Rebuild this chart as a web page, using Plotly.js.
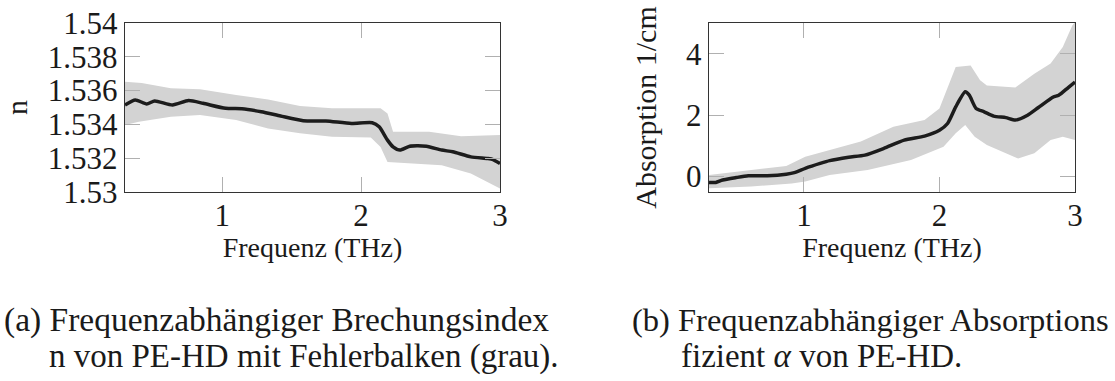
<!DOCTYPE html>
<html>
<head>
<meta charset="utf-8">
<script src="https://cdn.plot.ly/plotly-3.0.1.min.js"></script>
<style>html,body{margin:0;padding:0;background:#fff;font-family:'Liberation Serif';}#chart{width:1115px;height:381px;}</style>
</head>
<body>
<div id="chart"></div>
<script>
// (a) refractive index n vs frequency (THz)
const nFreq = [0.30,0.374,0.456,0.514,0.642,0.758,0.862,1.025,1.141,1.281,1.42,1.583,1.746,1.93,2.08,2.13,2.19,2.23,2.28,2.35,2.47,2.58,2.66,2.79,2.91,2.95,3.0];
const nValue = [1.53515,1.53545,1.53521,1.53539,1.53515,1.53541,1.53525,1.53495,1.53493,1.53475,1.5345,1.53422,1.5342,1.53406,1.5341,1.53386,1.53307,1.53267,1.53248,1.53271,1.53271,1.53248,1.53238,1.53208,1.53198,1.53192,1.53168];
const nUpperFreq = [0.30,0.42,0.63,0.84,1.10,1.33,1.56,1.79,2.14,2.19,2.23,2.49,2.72,3.0];
const nUpper = [1.53653,1.53645,1.53614,1.53608,1.53574,1.53548,1.53509,1.53495,1.53495,1.53464,1.53356,1.53356,1.5333,1.53337];
const nLowerFreq = [0.30,0.40,0.63,0.84,1.10,1.33,1.56,1.79,2.07,2.14,2.19,2.37,2.58,2.79,2.91,3.0];
const nLower = [1.53396,1.53416,1.53446,1.53455,1.53426,1.53376,1.53347,1.53327,1.53323,1.53267,1.53178,1.53168,1.53158,1.53109,1.53059,1.5302];

// (b) absorption coefficient (1/cm) vs frequency (THz)
const aFreq = [0.30,0.35,0.40,0.50,0.59,0.73,0.87,0.93,1.01,1.12,1.19,1.33,1.45,1.59,1.74,1.89,2.0,2.06,2.12,2.19,2.22,2.27,2.33,2.40,2.49,2.56,2.65,2.73,2.84,2.88,2.95,3.0];
const aValue = [-0.19,-0.19,-0.11,-0.03,0.03,0.03,0.08,0.13,0.27,0.43,0.52,0.63,0.70,0.92,1.19,1.32,1.51,1.73,2.27,2.76,2.65,2.22,2.11,1.97,1.92,1.84,2.0,2.25,2.59,2.65,2.90,3.08];
const aUpperFreq = [0.30,0.61,0.87,1.01,1.19,1.42,1.66,1.89,2.0,2.07,2.12,2.23,2.30,2.35,2.56,2.70,2.82,2.91,2.98,3.0];
const aUpper = [0.05,0.22,0.35,0.65,0.86,1.14,1.62,1.84,2.22,3.03,3.57,3.62,3.14,2.97,2.9,3.35,3.68,4.22,4.92,5.03];
const aLowerFreq = [0.30,0.61,0.91,1.01,1.19,1.47,1.79,2.03,2.12,2.19,2.26,2.35,2.49,2.58,2.70,2.82,2.91,3.0];
const aLower = [-0.38,-0.32,-0.22,-0.16,0.05,0.22,0.54,0.97,1.41,1.68,1.30,1.03,0.76,0.59,0.76,1.19,1.30,1.19];

const nTicks = [1.53,1.532,1.534,1.536,1.538,1.54];
const nTickText = ['1.53','1.532','1.534','1.536','1.538','1.54'];
const aTicks = [0,2,4];
const fTicks = [1,2,3];

const bandColor = '#d3d3d3';
const lineColor = '#1c1c1c';
const font = 'Liberation Serif';

function band(xu, yu, xl, yl, xa, ya) {
  return {
    x: xu.concat(xl.slice().reverse()),
    y: yu.concat(yl.slice().reverse()),
    xaxis: xa, yaxis: ya,
    type: 'scatter', mode: 'lines', fill: 'toself',
    fillcolor: bandColor, line: {width: 0, color: bandColor},
    hoverinfo: 'skip'
  };
}

const traces = [
  band(nUpperFreq, nUpper, nLowerFreq, nLower, 'x', 'y'),
  {x: nFreq, y: nValue, xaxis: 'x', yaxis: 'y', type: 'scatter', mode: 'lines',
   line: {color: lineColor, width: 3.5, shape: 'spline', smoothing: 0.6}},
  band(aUpperFreq, aUpper, aLowerFreq, aLower, 'x2', 'y2'),
  {x: aFreq, y: aValue, xaxis: 'x2', yaxis: 'y2', type: 'scatter', mode: 'lines',
   line: {color: lineColor, width: 3.5, shape: 'spline', smoothing: 0.6}}
];

function axisBase() {
  return {
    ticks: 'inside', ticklen: 15, tickwidth: 1, tickcolor: '#b0b0b0',
    showline: true, linecolor: '#333', linewidth: 1.3, mirror: 'ticks',
    showgrid: false, zeroline: false,
    tickfont: {family: font, size: 31, color: '#1a1a1a'}
  };
}

const W = 1115, H = 381;
const yDom = [1 - 192/H, 1 - 23/H];

const layout = {
  width: W, height: H,
  margin: {l: 0, r: 0, t: 0, b: 0},
  paper_bgcolor: '#fff', plot_bgcolor: '#fff',
  showlegend: false,
  font: {family: font, color: '#1a1a1a'},
  xaxis: Object.assign(axisBase(), {
    domain: [125/W, 500/W], range: [0.3, 3], tickvals: fTicks, anchor: 'y', ticklabelstandoff: -5,
    title: {text: 'Frequenz (THz)', font: {family: font, size: 28, color: '#1a1a1a'}, standoff: 6}
  }),
  yaxis: Object.assign(axisBase(), {
    domain: yDom, range: [1.53, 1.54], tickvals: nTicks, ticktext: nTickText, anchor: 'x',
    title: {text: 'n', font: {family: font, size: 30, color: '#1a1a1a'}, standoff: 16}
  }),
  xaxis2: Object.assign(axisBase(), {
    domain: [709/W, 1075/W], range: [0.3, 3], tickvals: fTicks, anchor: 'y2', ticklabelstandoff: -5,
    title: {text: 'Frequenz (THz)', font: {family: font, size: 28, color: '#1a1a1a'}, standoff: 6}
  }),
  yaxis2: Object.assign(axisBase(), {
    domain: yDom, range: [-0.5, 5], tickvals: aTicks, anchor: 'x2',
    title: {text: 'Absorption 1/cm', font: {family: font, size: 30, color: '#1a1a1a'}, standoff: 20}
  }),
  annotations: [
    {text: '(a) Frequenzabhängiger Brechungsindex', xref: 'paper', yref: 'paper',
     x: 2/W, y: 1 - 320/H, xanchor: 'left', yanchor: 'middle', showarrow: false,
     font: {family: font, size: 33.5, color: '#1a1a1a'}},
    {text: 'n von PE-HD mit Fehlerbalken (grau).', xref: 'paper', yref: 'paper',
     x: 47/W, y: 1 - 356/H, xanchor: 'left', yanchor: 'middle', showarrow: false,
     font: {family: font, size: 33, color: '#1a1a1a'}},
    {text: '(b) Frequenzabhängiger Absorptions', xref: 'paper', yref: 'paper',
     x: 630/W, y: 1 - 320/H, xanchor: 'left', yanchor: 'middle', showarrow: false,
     font: {family: font, size: 32.5, color: '#1a1a1a'}},
    {text: 'fizient <i>α</i> von PE-HD.', xref: 'paper', yref: 'paper',
     x: 679/W, y: 1 - 356/H, xanchor: 'left', yanchor: 'middle', showarrow: false,
     font: {family: font, size: 33, color: '#1a1a1a'}}
  ]
};

function draw() {
  Plotly.newPlot('chart', traces, layout, {displayModeBar: false, staticPlot: true});
}
if (document.fonts && document.fonts.load) {
  Promise.all([document.fonts.load('28px "Liberation Serif"'), document.fonts.load('italic 28px "Liberation Serif"')])
    .then(draw, draw);
} else {
  draw();
}
</script>
</body>
</html>
